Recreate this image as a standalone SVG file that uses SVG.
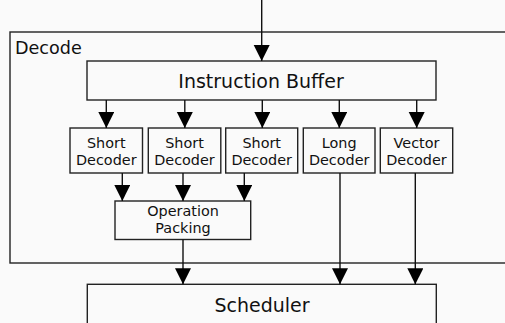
<svg xmlns="http://www.w3.org/2000/svg" width="505" height="323" viewBox="0 0 505 323">
<style>
.box{fill:none;stroke:#222;stroke-width:1.4}
.lbl{font-family:"DejaVu Sans",sans-serif;fill:#111;text-anchor:middle}
.small{font-size:14.4px}
.big{font-size:19px}
.con line{stroke:#111;stroke-width:1.4}
</style>
<defs>
<marker id="ah" markerUnits="userSpaceOnUse" markerWidth="16" markerHeight="18" viewBox="0 0 16 18" refX="16" refY="8" orient="auto">
<path d="M0,0 L16,8 L0,16 Z" fill="#000"/>
</marker>
</defs>
<rect width="505" height="323" fill="#fafafa"/>
<g id="decode">
<rect class="box" x="10" y="32" width="510" height="231"/>
<text x="15" y="53.7" style="font-family:'DejaVu Sans',sans-serif;font-size:17.6px;fill:#111">Decode</text>
</g>
<g id="ibuf">
<rect class="box" x="87" y="61" width="349" height="39"/>
<text class="lbl big" x="261" y="87.7">Instruction Buffer</text>
</g>
<g id="sd1">
<rect class="box" x="70" y="128" width="72.5" height="45"/>
<text class="lbl small" x="106.3" y="148.3">Short</text>
<text class="lbl small" x="106.3" y="165">Decoder</text>
</g>
<g id="sd2">
<rect class="box" x="148.3" y="128" width="72.5" height="45"/>
<text class="lbl small" x="184.5" y="148.3">Short</text>
<text class="lbl small" x="184.5" y="165">Decoder</text>
</g>
<g id="sd3">
<rect class="box" x="225.7" y="128" width="72" height="45"/>
<text class="lbl small" x="261.7" y="148.3">Short</text>
<text class="lbl small" x="261.7" y="165">Decoder</text>
</g>
<g id="ld">
<rect class="box" x="303.3" y="128" width="71.7" height="45"/>
<text class="lbl small" x="339.2" y="148.3">Long</text>
<text class="lbl small" x="339.2" y="165">Decoder</text>
</g>
<g id="vd">
<rect class="box" x="380.3" y="128" width="72.4" height="45"/>
<text class="lbl small" x="416.5" y="148.3">Vector</text>
<text class="lbl small" x="416.5" y="165">Decoder</text>
</g>
<g id="pack">
<rect class="box" x="115" y="201" width="135.7" height="38.5"/>
<text class="lbl small" x="183" y="215.5">Operation</text>
<text class="lbl small" x="183" y="232.5">Packing</text>
</g>
<g id="sched">
<rect class="box" x="87.3" y="284.3" width="349" height="45"/>
<text class="lbl big" x="262" y="311.7">Scheduler</text>
</g>
<g id="connectors" class="con">
<line x1="261.7" y1="0" x2="261.7" y2="61" marker-end="url(#ah)"/>
<line x1="106.3" y1="100" x2="106.3" y2="128" marker-end="url(#ah)"/>
<line x1="184.8" y1="100" x2="184.8" y2="128" marker-end="url(#ah)"/>
<line x1="262.3" y1="100" x2="262.3" y2="128" marker-end="url(#ah)"/>
<line x1="339.3" y1="100" x2="339.3" y2="128" marker-end="url(#ah)"/>
<line x1="416.7" y1="100" x2="416.7" y2="128" marker-end="url(#ah)"/>
<line x1="122.3" y1="173" x2="122.3" y2="201" marker-end="url(#ah)"/>
<line x1="183" y1="173" x2="183" y2="201" marker-end="url(#ah)"/>
<line x1="244.3" y1="173" x2="244.3" y2="201" marker-end="url(#ah)"/>
<line x1="183" y1="239.5" x2="183" y2="284.3" marker-end="url(#ah)"/>
<line x1="340" y1="173" x2="340" y2="284.3" marker-end="url(#ah)"/>
<line x1="415.3" y1="173" x2="415.3" y2="284.3" marker-end="url(#ah)"/>
</g>
</svg>
